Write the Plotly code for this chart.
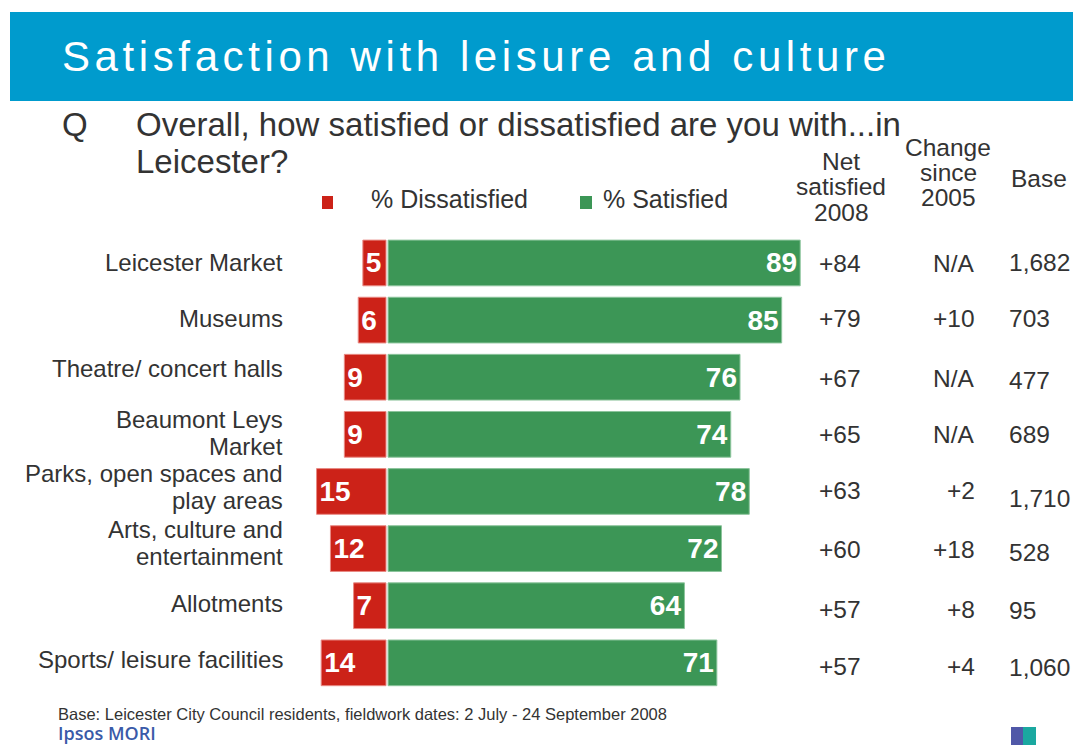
import plotly.graph_objects as go

# Survey items (top to bottom) and results
categories = [
    "Leicester Market",
    "Museums",
    "Theatre/ concert halls",
    "Beaumont Leys<br>Market",
    "Parks, open spaces and<br>play areas",
    "Arts, culture and<br>entertainment",
    "Allotments",
    "Sports/ leisure facilities",
]
dissatisfied = [5, 6, 9, 9, 15, 12, 7, 14]
satisfied = [89, 85, 76, 74, 78, 72, 64, 71]
net_2008 = ["+84", "+79", "+67", "+65", "+63", "+60", "+57", "+57"]
change_2005 = ["N/A", "+10", "N/A", "N/A", "+2", "+18", "+8", "+4"]
base = ["1,682", "703", "477", "689", "1,710", "528", "95", "1,060"]

W, H = 1073, 745
RED = "#CC2218"
GREEN = "#3C9656"
BLUE = "#009BCD"
TXT = "#333333"
FONT = "Liberation Sans, Arial, sans-serif"

# vertical nudges (px, up positive) for the text columns of each row
label_nudge = [0, 2, 9, 1, 4, 6, 2, 3]
stat_nudge = [-1, 2, -1, 0, 1, -1, -4, -4]
base_nudge = [0, 2, -3, 0, -7, -4, -5, -5]
LINE_GAP = 27   # px between lines of a two-line row label
HEAD_GAP = 25   # px between lines of a column header


def px_x(p):
    return p / W


def px_y(p):
    return 1 - p / H


fig = go.Figure()

bar_font = dict(family=FONT, size=28, color="white", weight="bold")
fig.add_trace(go.Bar(
    y=categories, x=[-v for v in dissatisfied], orientation="h",
    name="% Dissatisfied",
    marker=dict(color=RED, line=dict(color="#e88a84", width=1)),
    text=[str(v) for v in dissatisfied], textposition="inside",
    insidetextanchor="end", constraintext="none", textfont=bar_font,
    width=0.8, hoverinfo="skip",
))
fig.add_trace(go.Bar(
    y=categories, x=satisfied, orientation="h", base=0.45,
    name="% Satisfied",
    marker=dict(color=GREEN, line=dict(color="#8cc49c", width=1)),
    text=[str(v) for v in satisfied], textposition="inside",
    insidetextanchor="end", constraintext="none", textfont=bar_font,
    width=0.8, hoverinfo="skip",
))

fig.update_layout(
    width=W, height=H,
    margin=dict(l=0, r=0, t=0, b=0),
    paper_bgcolor="white", plot_bgcolor="white",
    barmode="overlay", showlegend=False,
    font=dict(family=FONT, color=TXT),
    xaxis=dict(range=[-20, 95], domain=[px_x(293.4), px_x(825.9)],
               visible=False, fixedrange=True),
    yaxis=dict(categoryorder="array", categoryarray=categories[::-1],
               domain=[px_y(691.4), px_y(234.4)], visible=False,
               range=[-0.5, len(categories) - 0.5]),
)


def txt(size, color=TXT, family=FONT, weight="normal"):
    return dict(size=size, color=color, family=family, weight=weight)


ann = []
for i, c in enumerate(categories):
    # row label, one annotation per line for tight line spacing
    lines = c.split("<br>")
    n = len(lines)
    for k, line in enumerate(lines):
        off = ((n - 1) / 2 - k) * LINE_GAP
        ann.append(dict(x=px_x(285), xref="paper", y=c, yref="y", text=line,
                        xanchor="right", yanchor="middle", showarrow=False,
                        yshift=label_nudge[i] + off, font=txt(24)))
    ann.append(dict(x=px_x(817), xref="paper", y=c, yref="y", text=net_2008[i],
                    xanchor="left", yanchor="middle", showarrow=False,
                    yshift=stat_nudge[i], font=txt(24.5)))
    ann.append(dict(x=px_x(977), xref="paper", y=c, yref="y", text=change_2005[i],
                    xanchor="right", yanchor="middle", showarrow=False,
                    yshift=stat_nudge[i], font=txt(24.5)))
    ann.append(dict(x=px_x(1007), xref="paper", y=c, yref="y", text=base[i],
                    xanchor="left", yanchor="middle", showarrow=False,
                    yshift=base_nudge[i], font=txt(24.5)))


def paper_text(x, y, text, size, xanchor="left", **kw):
    ann.append(dict(x=px_x(x), y=px_y(y), xref="paper", yref="paper", text=text,
                    xanchor=xanchor, yanchor="middle", showarrow=False,
                    font=kw.get("font", txt(size))))


# Title banner text
paper_text(60, 57,
           '<span style="letter-spacing:4.6px">Satisfaction with leisure and culture</span>',
           42, font=txt(42, color="white"))
# Question
paper_text(60, 125, "Q", 33)
paper_text(134, 125, "Overall, how satisfied or dissatisfied are you with...in", 33)
paper_text(134, 162, "Leicester?", 33)
# Legend
paper_text(369, 199, "% Dissatisfied", 25)
paper_text(601, 199, "% Satisfied", 25)
# Column headers
for k, line in enumerate(["Net", "satisfied", "2008"]):
    paper_text(841, 162 + k * HEAD_GAP, line, 24.5, xanchor="center")
for k, line in enumerate(["Change", "since", "2005"]):
    paper_text(948, 147 + k * HEAD_GAP, line, 24.5, xanchor="center")
paper_text(1039, 178, "Base", 24.5, xanchor="center")
# Footer
paper_text(56, 714,
           "Base: Leicester City Council residents, fieldwork dates: 2 July - 24 September 2008",
           16.5)
paper_text(56, 733, "Ipsos MORI", 18,
           font=txt(18, color="#3a5aa8", family="Open Sans, sans-serif", weight=600))

shapes = [
    # Title banner
    dict(type="rect", xref="paper", yref="paper", x0=px_x(10), x1=1,
         y0=px_y(101), y1=px_y(12), fillcolor=BLUE, line=dict(width=0), layer="below"),
    # Legend swatches
    dict(type="rect", xref="paper", yref="paper", x0=px_x(322), x1=px_x(333),
         y0=px_y(209), y1=px_y(196), fillcolor=RED, line=dict(width=0)),
    dict(type="rect", xref="paper", yref="paper", x0=px_x(580), x1=px_x(592),
         y0=px_y(209), y1=px_y(196), fillcolor=GREEN, line=dict(width=0)),
    # Small logo mark
    dict(type="rect", xref="paper", yref="paper", x0=px_x(1011), x1=px_x(1023),
         y0=0, y1=px_y(727), fillcolor="#5058a8", line=dict(width=0)),
    dict(type="rect", xref="paper", yref="paper", x0=px_x(1023), x1=px_x(1036),
         y0=0, y1=px_y(727), fillcolor="#1aa8a0", line=dict(width=0)),
]

fig.update_layout(annotations=ann, shapes=shapes)
fig.write_html("out.html")
